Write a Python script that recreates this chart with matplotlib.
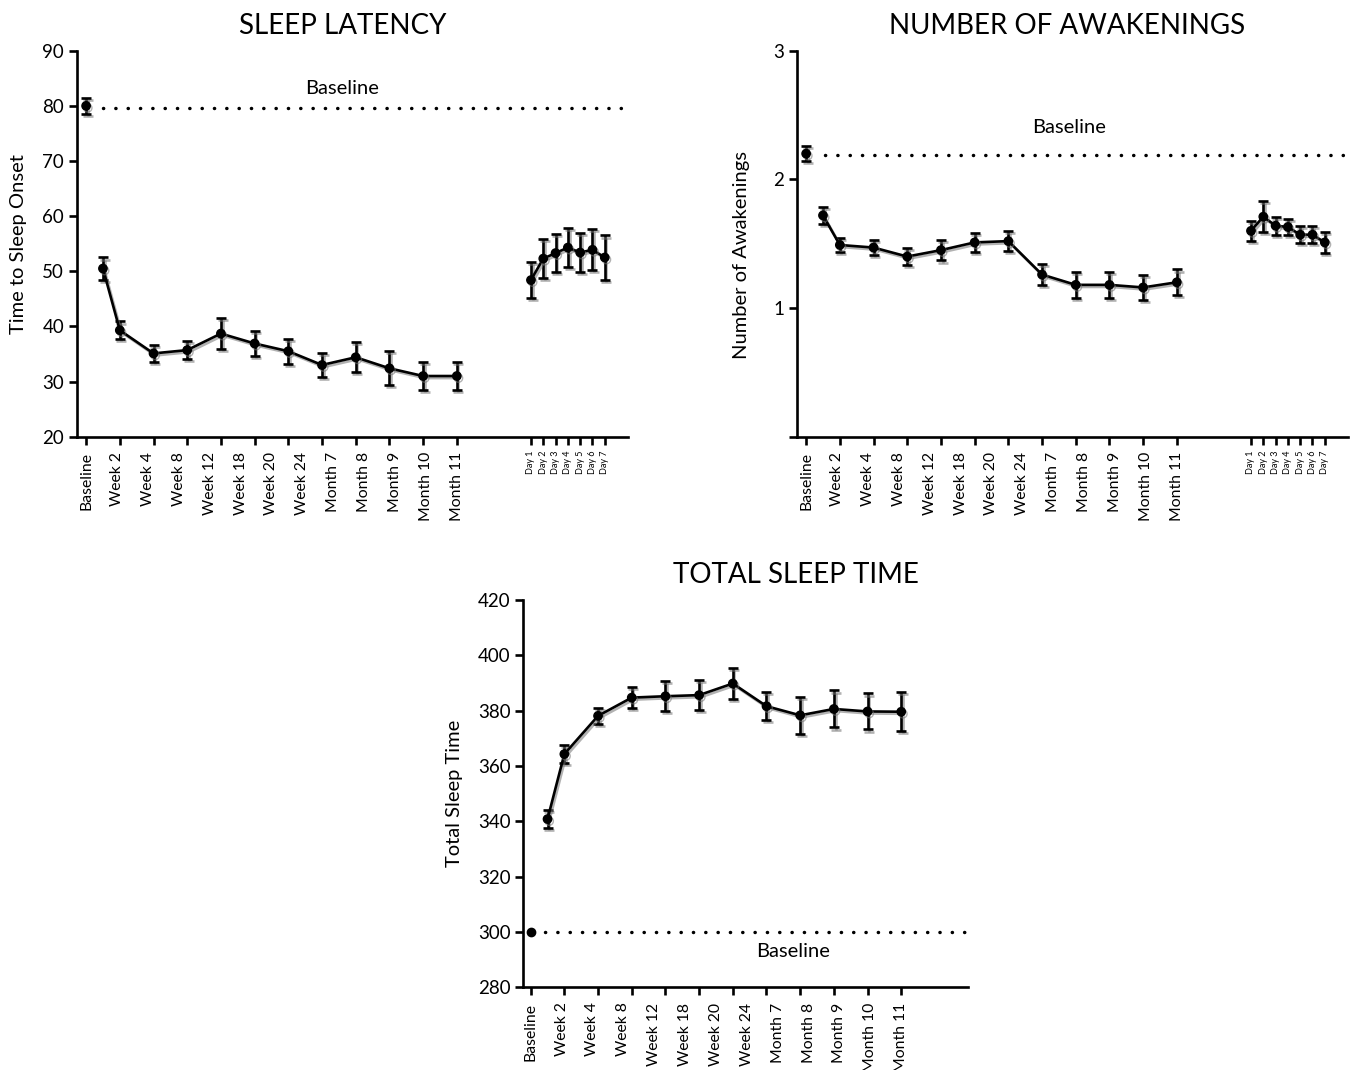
import matplotlib
matplotlib.use("Agg")
import matplotlib.pyplot as plt
import matplotlib.patheffects as pe
import numpy as np

plt.rcParams['font.family'] = ['Lato', 'DejaVu Sans']

# x-axis categories (labels are spread evenly under the axis)
visit_labels = ['Baseline', 'Week 2', 'Week 4', 'Week 8', 'Week 12', 'Week 18',
                'Week 20', 'Week 24', 'Month 7', 'Month 8', 'Month 9',
                'Month 10', 'Month 11']
day_labels = ['Day 1', 'Day 2', 'Day 3', 'Day 4', 'Day 5', 'Day 6', 'Day 7']

# position of each measured visit (0 = baseline, 0.5 = first week)
visit_x = [0.5, 1, 2, 3, 4, 5, 6, 7, 8, 9, 10, 11]

# sleep latency (minutes)
latency_base, latency_base_err = 80.0, 1.5
latency = [50.5, 39.3, 35.1, 35.7, 38.7, 36.9, 35.5, 33.0, 34.4, 32.4, 31.0, 31.0]
latency_err = [2.0, 1.6, 1.6, 1.6, 2.8, 2.3, 2.3, 2.1, 2.7, 3.1, 2.5, 2.5]
latency_days = [48.4, 52.3, 53.3, 54.3, 53.4, 53.9, 52.5]
latency_days_err = [3.3, 3.5, 3.5, 3.6, 3.5, 3.7, 4.0]
latency_ref = 79.6

# number of awakenings
awake_base, awake_base_err = 2.20, 0.06
awake = [1.72, 1.49, 1.47, 1.40, 1.45, 1.51, 1.52, 1.26, 1.18, 1.18, 1.16, 1.20]
awake_err = [0.065, 0.055, 0.06, 0.065, 0.08, 0.075, 0.08, 0.08, 0.1, 0.1, 0.095, 0.1]
awake_days = [1.60, 1.71, 1.64, 1.63, 1.57, 1.57, 1.51]
awake_days_err = [0.08, 0.12, 0.07, 0.065, 0.065, 0.065, 0.08]
awake_ref = 2.19

# total sleep time (minutes)
tst_base = 300
tst = [340.8, 364.3, 378.1, 384.7, 385.2, 385.6, 389.8, 381.6, 378.3, 380.6, 379.7, 379.6]
tst_err = [3.2, 3.2, 3.0, 3.8, 5.4, 5.5, 5.6, 5.0, 6.6, 6.7, 6.5, 7.0]
tst_ref = 300

day_x = 13.2 + 0.365 * np.arange(len(day_labels))
shadow = [pe.SimpleLineShadow(offset=(1.2, -1.5), shadow_color='0.45', alpha=0.55),
          pe.Normal()]
dots = dict(color='black', lw=2.5, ls=(0, (0.05, 3.5)), dash_capstyle='round')


def errline(ax, x, y, err, connect=True):
    c = ax.errorbar(x, y, yerr=err, fmt='o-' if connect else 'o', color='black',
                    ms=6, lw=1.9, elinewidth=1.9, capsize=3.6, capthick=1.9,
                    zorder=3)
    for art in [c.lines[0]] + list(c.lines[1]) + list(c.lines[2]):
        art.set_path_effects(shadow)


def style(ax, xlim, with_days):
    for s in ['top', 'right']:
        ax.spines[s].set_visible(False)
    for s in ['left', 'bottom']:
        ax.spines[s].set_linewidth(1.9)
    ax.set_xlim(*xlim)
    ax.xaxis.remove_overlapping_locs = False
    ticks = list(range(12))
    labels = [''] * 12
    if with_days:
        ticks += list(day_x)
        labels += day_labels
    ax.set_xticks(ticks, labels)
    for lab in ax.get_xticklabels():
        lab.set_rotation(90)
        lab.set_fontsize(6.5)
    ax.set_xticks(np.linspace(0, 11, len(visit_labels)), visit_labels, minor=True,
                  rotation=90, fontsize=11.3)
    ax.tick_params(axis='x', which='major', length=6, width=1.9, pad=4)
    ax.tick_params(axis='x', which='minor', length=0, pad=11)
    ax.tick_params(axis='y', length=6, width=1.9, labelsize=13.5, pad=3)


fig = plt.figure(figsize=(13.57, 10.70), dpi=100)
ax1 = fig.add_axes([0.0565, 0.5919, 0.4063, 0.3607])
ax2 = fig.add_axes([0.5871, 0.5919, 0.4063, 0.3607])
ax3 = fig.add_axes([0.3856, 0.0773, 0.3277, 0.3620])

# --- sleep latency
style(ax1, (-0.28, 16.08), True)
ax1.set_ylim(20, 90)
ax1.set_yticks(np.arange(20, 91, 10))
ax1.plot([0.5, 15.9], [latency_ref, latency_ref], **dots)
errline(ax1, [0], [latency_base], [latency_base_err], connect=False)
errline(ax1, visit_x, latency, latency_err)
errline(ax1, day_x, latency_days, latency_days_err)
ax1.text(7.6, 83.2, 'Baseline', ha='center', va='center', fontsize=14.5)
ax1.set_title('SLEEP LATENCY', fontsize=20, x=0.483, pad=12)
ax1.set_ylabel('Time to Sleep Onset', fontsize=14.5)
ax1.yaxis.set_label_coords(-0.09, 0.5)

# --- awakenings
style(ax2, (-0.28, 16.08), True)
ax2.set_ylim(0, 3)
ax2.set_yticks([0, 1, 2, 3], ['', '1', '2', '3'])
ax2.plot([0.56, 15.97], [awake_ref, awake_ref], **dots)
errline(ax2, [0], [awake_base], [awake_base_err], connect=False)
errline(ax2, visit_x, awake, awake_err)
errline(ax2, day_x, awake_days, awake_days_err)
ax2.text(7.8, 2.40, 'Baseline', ha='center', va='center', fontsize=14.5)
ax2.set_title('NUMBER OF AWAKENINGS', fontsize=20, x=0.49, pad=12)
ax2.set_ylabel('Number of Awakenings', fontsize=14.5)
ax2.yaxis.set_label_coords(-0.085, 0.47)

# --- total sleep time
style(ax3, (-0.22, 12.98), False)
ax3.set_ylim(280, 420)
ax3.set_yticks(np.arange(280, 421, 20))
ax3.plot([0.42, 12.98], [tst_ref, tst_ref], **dots)
ax3.plot([0], [tst_base], 'o', color='black', ms=6, zorder=3)
errline(ax3, visit_x, tst, tst_err)
ax3.text(7.8, 292.8, 'Baseline', ha='center', va='center', fontsize=14.5)
ax3.set_title('TOTAL SLEEP TIME', fontsize=20, x=0.613, pad=12)
ax3.set_ylabel('Total Sleep Time', fontsize=14.5)
ax3.yaxis.set_label_coords(-0.136, 0.5)

fig.savefig('out.png', dpi=100, facecolor='white')
